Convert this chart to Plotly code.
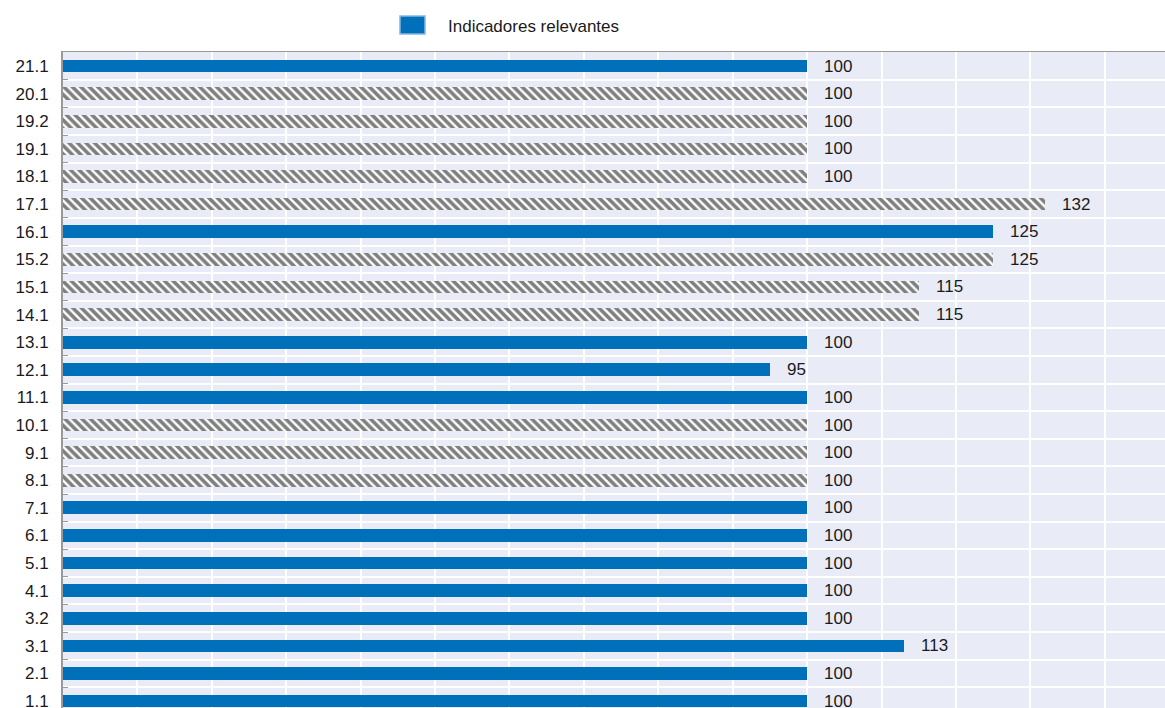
import plotly.graph_objects as go

categories = ["1.1", "2.1", "3.1", "3.2", "4.1", "5.1", "6.1", "7.1", "8.1", "9.1",
              "10.1", "11.1", "12.1", "13.1", "14.1", "15.1", "15.2", "16.1", "17.1",
              "18.1", "19.1", "19.2", "20.1", "21.1"]
values = [100, 100, 113, 100, 100, 100, 100, 100, 100, 100,
          100, 100, 95, 100, 115, 115, 125, 125, 132,
          100, 100, 100, 100, 100]
# True = relevant indicator (solid), False = hatched
relevant = [True, True, True, True, True, True, True, True, False, False,
            False, True, True, True, False, False, False, True, False,
            False, False, False, False, True]
legend_label = "Indicadores relevantes"

BLUE = "#0070BA"
FONT = "Liberation Sans, Arial, sans-serif"
TXT = "#1a1a1a"

pos = list(range(len(categories)))
sol_y = [p for p, r in zip(pos, relevant) if r]
sol_x = [v for v, r in zip(values, relevant) if r]
hat_y = [p for p, r in zip(pos, relevant) if not r]
hat_x = [v for v, r in zip(values, relevant) if not r]

fig = go.Figure()
fig.add_trace(go.Bar(
    y=sol_y, x=sol_x, orientation="h", width=0.46,
    marker=dict(color=BLUE, line=dict(width=0)),
    name=legend_label, showlegend=False, hoverinfo="skip",
))
fig.add_trace(go.Bar(
    y=hat_y, x=hat_x, orientation="h", width=0.46,
    marker=dict(color="white", line=dict(width=0),
                pattern=dict(shape="\\", fgcolor="black", bgcolor="white",
                             size=6, solidity=0.6)),
    showlegend=False, hoverinfo="skip",
))

for p, v in zip(pos, values):
    fig.add_annotation(x=v, y=p, text=str(v), showarrow=False,
                       xanchor="left", yanchor="middle", xshift=15,
                       font=dict(family=FONT, size=17, color=TXT))

# custom legend
fig.add_shape(type="rect", xref="paper", yref="paper",
              x0=0.3058, x1=0.3285, y0=1.0274, y1=1.0549,
              fillcolor=BLUE, line=dict(color="#86B6E0", width=1.5))
fig.add_annotation(xref="paper", yref="paper", x=0.3475, y=1.0396,
                   text=legend_label, showarrow=False, xanchor="left",
                   yanchor="middle", font=dict(family=FONT, size=17, color=TXT))

fig.update_layout(
    width=1165, height=708,
    margin=dict(l=63, r=0, t=52, b=0),
    paper_bgcolor="white", plot_bgcolor="#E9ECF7",
    barmode="overlay", bargap=0,
    font=dict(family=FONT, size=17, color=TXT),
    showlegend=False,
)
fig.update_xaxes(range=[0, 148.1], dtick=10, tick0=0, showticklabels=False,
                 side="top", ticks="", automargin=False,
                 showgrid=True, gridcolor="white", gridwidth=1.5, zeroline=False,
                 showline=True, linecolor="#999999", linewidth=1, mirror=False)
fig.update_yaxes(range=[-0.25, 23.51], tickvals=pos, ticktext=categories,
                 showgrid=False, zeroline=False, ticks="", automargin=False,
                 showline=True, linecolor="#999999", linewidth=2, mirror=False,
                 ticklabelstandoff=9, ticklabeloverflow="allow",
                 minor=dict(tickvals=[p + 0.5 for p in pos[:-1]], showgrid=True,
                            gridcolor="white", gridwidth=1.5, ticks="inside",
                            ticklen=5, tickcolor="#999999"),
                 tickfont=dict(family=FONT, size=17, color=TXT))

fig.write_html("out.html", config={"displayModeBar": False},
               post_script="document.body.style.margin='0';")
